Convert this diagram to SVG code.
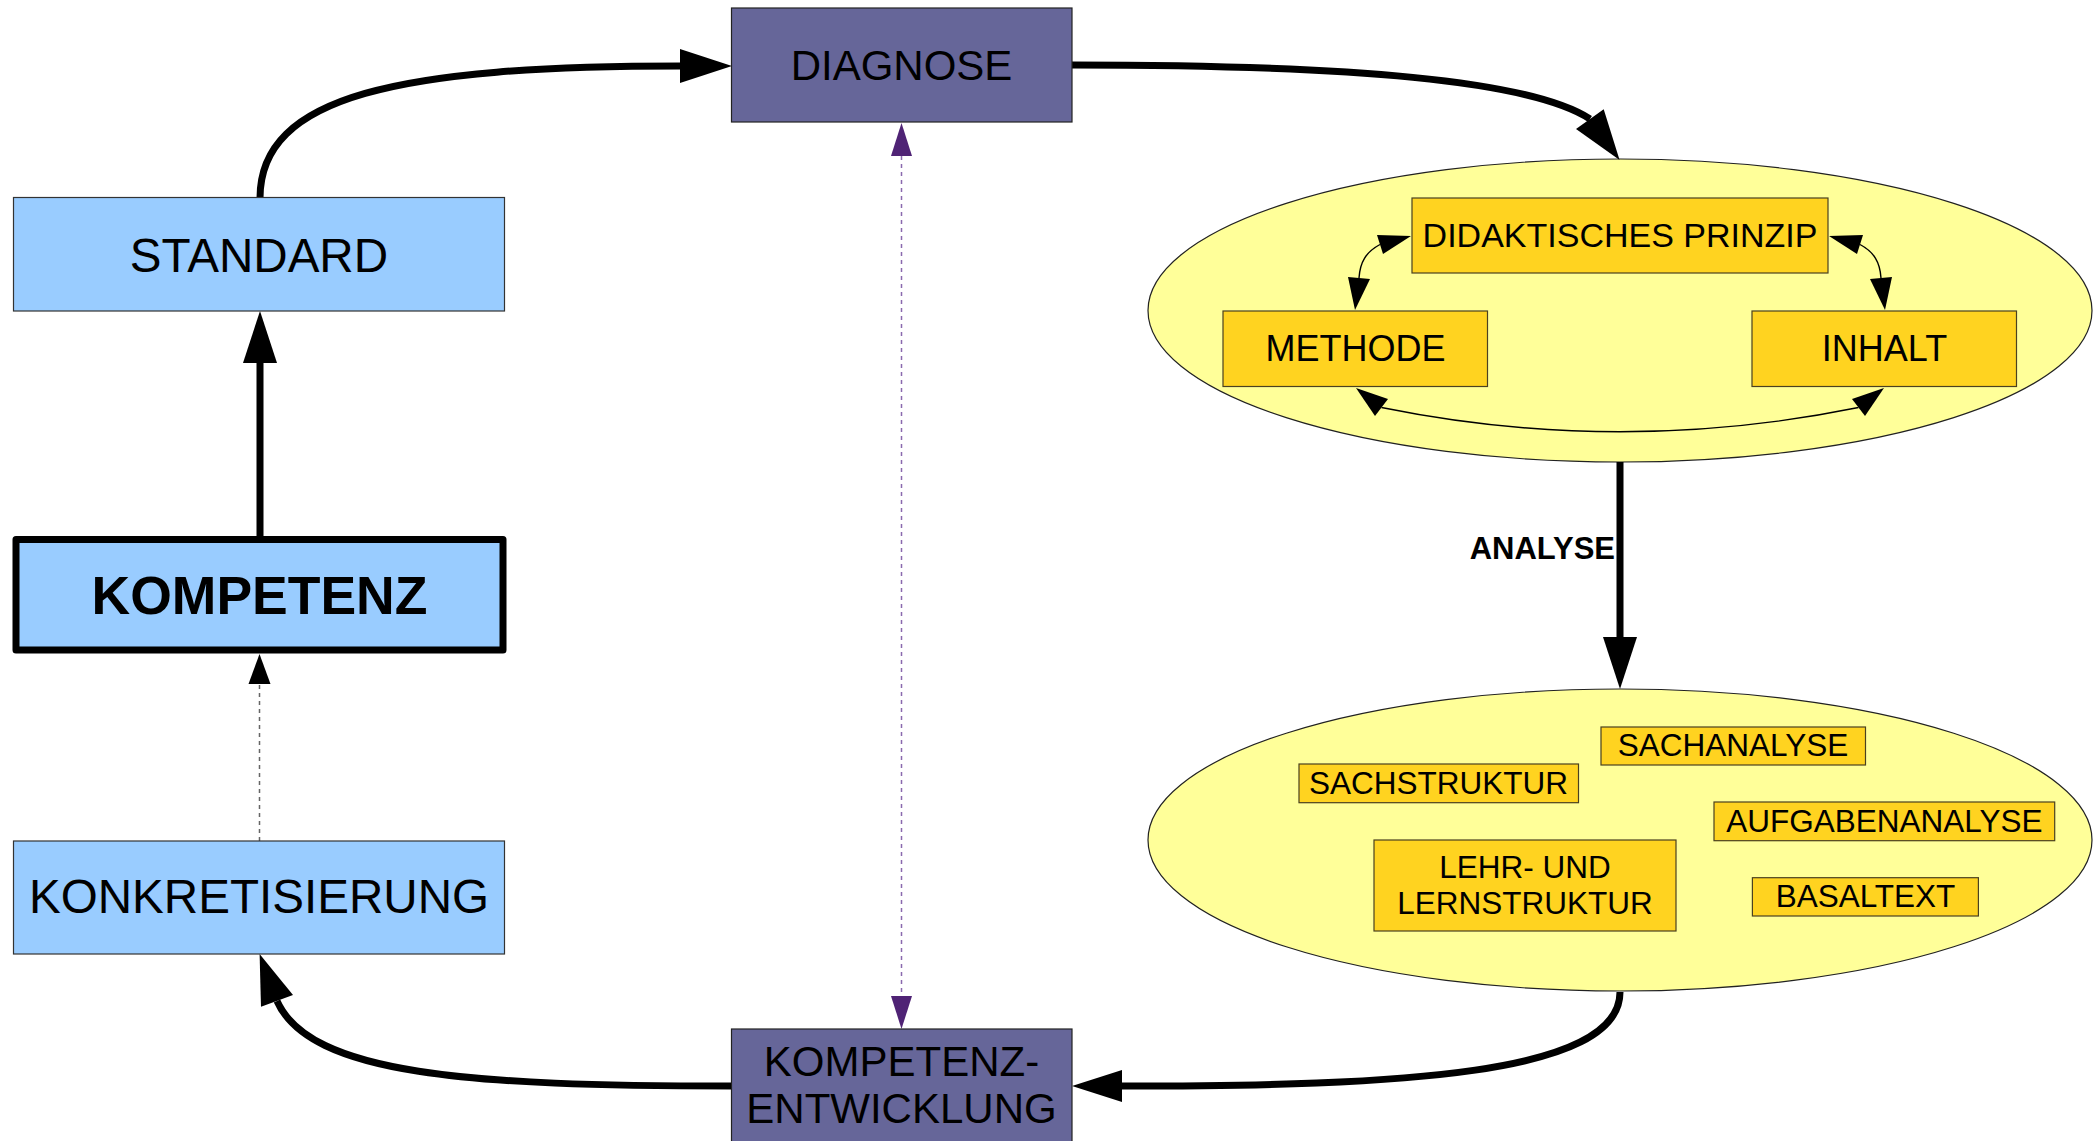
<svg xmlns="http://www.w3.org/2000/svg" width="2096" height="1141" viewBox="0 0 2096 1141">
<style>
  text { font-family: "Liberation Sans", Arial, sans-serif; fill: #000; text-anchor: middle; }
  .blue { fill: #99ccff; stroke: #333; stroke-width: 1.2; }
  .purple { fill: #666699; stroke: #222; stroke-width: 1.2; }
  .gold { fill: #ffd320; stroke: #4a4020; stroke-width: 1.2; }
  .ell { fill: #ffff99; stroke: #222; stroke-width: 1.2; }
  .thick { fill: none; stroke: #000; stroke-width: 7; }
  .thin { fill: none; stroke: #000; stroke-width: 1.4; }
  .dgray { fill: none; stroke: #666; stroke-width: 1.5; stroke-dasharray: 4 4; }
  .dpurp { fill: none; stroke: #8a6aae; stroke-width: 1.5; stroke-dasharray: 4 4; }
  .ah { fill: #000; }
  .ahp { fill: #4f2375; }
  .t42 { font-size: 42px; }
  .t47 { font-size: 47.6px; }
  .t36 { font-size: 36px; }
  .t34 { font-size: 34px; }
  .t31 { font-size: 31.5px; }
</style>

<g id="ellipse-top">
  <ellipse class="ell" cx="1620" cy="310.5" rx="472" ry="151.5"/>
</g>
<g id="ellipse-bottom">
  <ellipse class="ell" cx="1620" cy="840" rx="472" ry="151"/>
</g>

<g id="connectors">
  <!-- STANDARD -> DIAGNOSE -->
  <path class="thick" d="M260,198 C260,95 400,66 681,66"/>
  <polygon class="ah" points="732,66 680,49 680,83"/>
  <!-- DIAGNOSE -> ellipse top -->
  <path class="thick" d="M1072,65 C1350,65 1530,80 1590,119"/>
  <polygon class="ah" points="1619.6,160 1576,129 1603.7,109.3"/>
  <!-- KOMPETENZ -> STANDARD -->
  <path class="thick" d="M260,536 L260,362"/>
  <polygon class="ah" points="260,311 243,363 277,363"/>
  <!-- ANALYSE -->
  <path class="thick" d="M1620,462 L1620,638"/>
  <polygon class="ah" points="1620,689 1603,637 1637,637"/>
  <!-- ellipse bottom -> KOMPETENZ-ENTWICKLUNG -->
  <path class="thick" d="M1620,992 C1620,1075 1400,1086 1121,1086"/>
  <polygon class="ah" points="1072,1086 1122,1070 1122,1102"/>
  <!-- KOMPETENZ-ENTWICKLUNG -> KONKRETISIERUNG -->
  <path class="thick" d="M732,1086 C470,1086 310,1075 277,1001"/>
  <polygon class="ah" points="259.6,954 261,1006.7 293,995"/>
  <!-- KONKRETISIERUNG -> KOMPETENZ (dashed) -->
  <path class="dgray" d="M259.5,841 L259.5,684"/>
  <polygon class="ah" points="259.5,654 248.5,684 270.5,684"/>
  <!-- DIAGNOSE <-> KOMPETENZ-ENTWICKLUNG (dashed purple) -->
  <path class="dpurp" d="M901.5,156 L901.5,996"/>
  <polygon class="ahp" points="901.5,123 891,156 912,156"/>
  <polygon class="ahp" points="901.5,1029 891,996 912,996"/>
  <!-- PRINZIP <-> METHODE -->
  <path class="thin" d="M1380,244.5 C1366,252 1360,262 1359,278"/>
  <polygon class="ah" points="1411,236 1377,235 1383,254"/>
  <polygon class="ah" points="1355,310 1348,277 1370,279"/>
  <!-- PRINZIP <-> INHALT -->
  <path class="thin" d="M1860,244.5 C1874,252 1880,262 1881,278"/>
  <polygon class="ah" points="1829,236 1863,235 1857,254"/>
  <polygon class="ah" points="1885,310 1892,277 1870,279"/>
  <!-- METHODE <-> INHALT -->
  <path class="thin" d="M1381.5,407.5 Q1620,456 1858.5,407.5"/>
  <polygon class="ah" points="1356,388 1375,416 1388,399"/>
  <polygon class="ah" points="1884,388 1865,416 1852,399"/>
  <text x="1615" y="559" style="font-size:31px;font-weight:bold;text-anchor:end">ANALYSE</text>
</g>

<g id="diagnose">
  <rect class="purple" x="731.5" y="8" width="340.5" height="114"/>
  <text class="t42" x="901.5" y="80">DIAGNOSE</text>
</g>
<g id="standard">
  <rect class="blue" x="13.5" y="197.5" width="491" height="113.5"/>
  <text class="t47" x="259" y="272">STANDARD</text>
</g>
<g id="kompetenz">
  <rect x="16" y="539.5" width="487" height="110.5" fill="#99ccff" stroke="#000" stroke-width="7" stroke-linejoin="round"/>
  <text x="259.5" y="614" style="font-size:53.5px;font-weight:bold">KOMPETENZ</text>
</g>
<g id="konkretisierung">
  <rect class="blue" x="13.5" y="841" width="491" height="113"/>
  <text class="t47" x="259" y="913">KONKRETISIERUNG</text>
</g>
<g id="kompetenzentwicklung">
  <rect class="purple" x="731.5" y="1029" width="340.5" height="114"/>
  <text class="t42" x="901.5" y="1076">KOMPETENZ-</text>
  <text class="t42" x="901.5" y="1123">ENTWICKLUNG</text>
</g>

<g id="prinzip">
  <rect class="gold" x="1412" y="198" width="416" height="75"/>
  <text class="t34" x="1620" y="247">DIDAKTISCHES PRINZIP</text>
</g>
<g id="methode">
  <rect class="gold" x="1223" y="311" width="264.5" height="75.5"/>
  <text class="t36" x="1355.5" y="361">METHODE</text>
</g>
<g id="inhalt">
  <rect class="gold" x="1752" y="311" width="264.5" height="75.5"/>
  <text class="t36" x="1884.5" y="361">INHALT</text>
</g>

<g id="sachanalyse">
  <rect class="gold" x="1601" y="727" width="264.5" height="38"/>
  <text class="t31" x="1733" y="756">SACHANALYSE</text>
</g>
<g id="sachstruktur">
  <rect class="gold" x="1299" y="764" width="279.5" height="38.7"/>
  <text class="t31" x="1438.5" y="794">SACHSTRUKTUR</text>
</g>
<g id="aufgabenanalyse">
  <rect class="gold" x="1714" y="802" width="340.7" height="38.7"/>
  <text class="t31" x="1884.4" y="831.5">AUFGABENANALYSE</text>
</g>
<g id="lehrlernstruktur">
  <rect class="gold" x="1374" y="840" width="302" height="91"/>
  <text class="t31" x="1525" y="878">LEHR- UND</text>
  <text class="t31" x="1525" y="914">LERNSTRUKTUR</text>
</g>
<g id="basaltext">
  <rect class="gold" x="1752.4" y="877.7" width="226" height="38.3"/>
  <text class="t31" x="1865.5" y="906.5">BASALTEXT</text>
</g>
</svg>
